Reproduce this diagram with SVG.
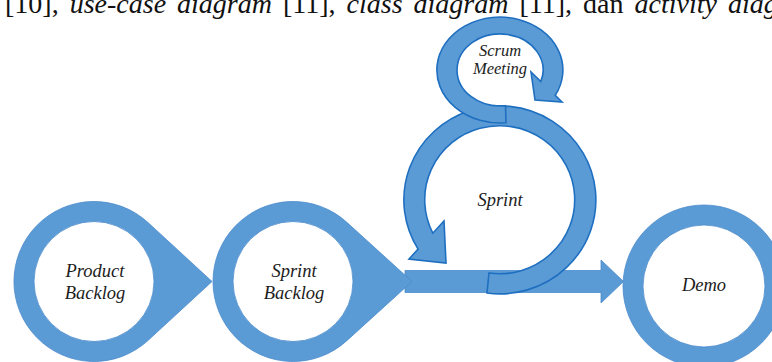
<svg xmlns="http://www.w3.org/2000/svg" width="772" height="362" viewBox="0 0 772 362">
<style>
.shape{fill:#5B9BD5;stroke:#4A8ACB;stroke-width:0.8;fill-rule:evenodd}
.arc{fill:#5B9BD5;stroke:#1F6FC1;stroke-width:1.6;stroke-linejoin:miter}
.lbl{font-style:italic;font-size:18.5px;fill:#1c1c1c;text-anchor:middle}
.sm{font-size:16.5px}
.top{font-size:28px;fill:#111}
.it{font-style:italic}
</style>
<g font-family="'Liberation Serif', 'Times New Roman', Times, serif">
<text class="top" x="5" y="13" word-spacing="4">[10], <tspan class="it">use-case diagram</tspan> [11], <tspan class="it">class diagram</tspan> [11], dan <tspan class="it">activity diag</tspan></text>
<g id="connectors">
<path id="flow-arrow" class="shape" d="M405 270.5 H601 V260 L623.5 281.5 L601 303 V292.5 H405 Z"/>
</g>
<g id="product-backlog">
<path class="shape" d="M212 281.5 L148.2 222.7 A80 80 0 1 0 148.2 340.3 Z M154 281.5 A60 60 0 1 0 34 281.5 A60 60 0 1 0 154 281.5 Z"/>
<text class="lbl" x="95" y="277">Product</text>
<text class="lbl" x="95" y="299">Backlog</text>
</g>
<g id="sprint-backlog">
<path class="shape" d="M412 281.5 L346.8 222.3 A80 80 0 1 0 346.8 340.7 Z M353 281.5 A60 60 0 1 0 233 281.5 A60 60 0 1 0 353 281.5 Z"/>
<text class="lbl" x="294" y="277">Sprint</text>
<text class="lbl" x="294" y="299">Backlog</text>
</g>
<g id="sprint">
<path class="arc" d="M487 293 A96 94 0 1 0 418.1 249.1 L409 259 L446 263 L444 221 L432.8 233.2 A75 74 0 1 1 489 273 Z"/>
<text class="lbl" x="500" y="206">Sprint</text>
</g>
<g id="scrum-meeting">
<path class="arc" d="M506 122.8 A63 53 0 1 1 555.2 95.4 L562 102 L535 100 L531 72 L540.8 81.5 A43 36 0 1 0 505.5 105.7 Z"/>
<text class="lbl sm" x="500" y="56">Scrum</text>
<text class="lbl sm" x="500" y="74">Meeting</text>
</g>
<g id="demo">
<path class="shape" d="M785 286 A81 81 0 1 0 623 286 A81 81 0 1 0 785 286 Z M765 286 A61 61 0 1 0 643 286 A61 61 0 1 0 765 286 Z"/>
<text class="lbl" x="704" y="291">Demo</text>
</g>
</g>
</svg>
